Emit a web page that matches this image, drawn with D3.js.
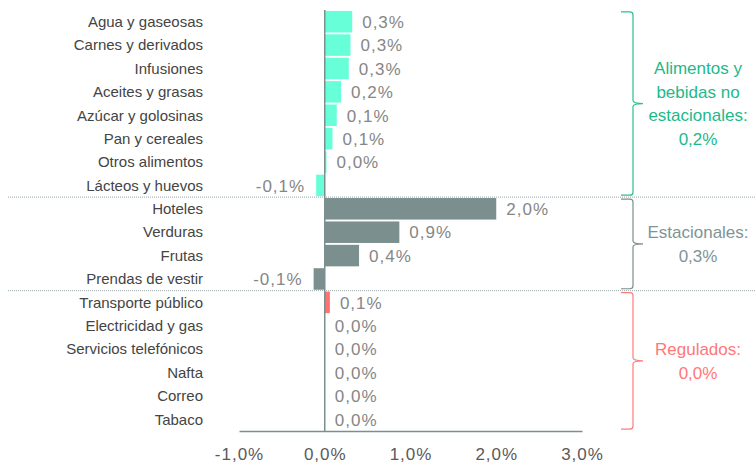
<!DOCTYPE html>
<html>
<head>
<meta charset="utf-8">
<script src="https://cdn.jsdelivr.net/npm/d3@7"></script>
<style>
  html, body { margin: 0; padding: 0; background: #fff; }
  svg { display: block; }
  text { font-family: "Liberation Sans", Arial, sans-serif; }
</style>
</head>
<body>
<svg id="chart" width="756" height="465"></svg>
<script>
const categories = [
  "Agua y gaseosas", "Carnes y derivados", "Infusiones", "Aceites y grasas",
  "Azúcar y golosinas", "Pan y cereales", "Otros alimentos", "Lácteos y huevos",
  "Hoteles", "Verduras", "Frutas", "Prendas de vestir",
  "Transporte público", "Electricidad y gas", "Servicios telefónicos", "Nafta", "Correo", "Tabaco"
];
const values = [0.32, 0.30, 0.28, 0.19, 0.14, 0.09, 0.02, -0.10,
                2.00, 0.87, 0.40, -0.13,
                0.06, 0.00, 0.00, 0.00, 0.00, 0.00];
const valueLabels = ["0,3%", "0,3%", "0,3%", "0,2%", "0,1%", "0,1%", "0,0%", "-0,1%",
                     "2,0%", "0,9%", "0,4%", "-0,1%",
                     "0,1%", "0,0%", "0,0%", "0,0%", "0,0%", "0,0%"];
const groupOf = [0,0,0,0,0,0,0,0, 1,1,1,1, 2,2,2,2,2,2];
const groupNames = [["Alimentos y", "bebidas no", "estacionales:", "0,2%"], ["Estacionales:", "0,3%"], ["Regulados:", "0,0%"]];
const groupStart = [0, 8, 12];
const groupEnd = [7, 11, 17];
const xTicks = [-1, 0, 1, 2, 3];
const xTickLabels = ["-1,0%", "0,0%", "1,0%", "2,0%", "3,0%"];

const barColors = ["#66FFD8", "#7A8F8E", "#FF7373"];
const textColors = ["#1DB98A", "#7D9595", "#FF7777"];
const braceColors = ["#2DBF8F", "#7A8F8E", "#FF7B7B"];
const numFont = "'Open Sans', 'Liberation Sans', sans-serif";

const svg = d3.select("#chart");
const x = d3.scaleLinear().domain([-1, 3]).range([239, 582]);
const y = d3.scaleBand().domain(categories).range([10, 431]).paddingInner(0.08).paddingOuter(0.04);

// separators
[8, 12].forEach(i => {
  const yy = y(categories[i]) - (y.step() - y.bandwidth()) / 2;
  svg.append("line").attr("x1", 8).attr("x2", 756).attr("y1", yy).attr("y2", yy)
    .attr("stroke", "#9aa9a8").attr("stroke-width", 1).attr("stroke-dasharray", "1,1");
});

// bars
svg.append("g").selectAll("rect").data(categories).join("rect")
  .attr("x", (d, i) => x(Math.min(0, values[i])))
  .attr("width", (d, i) => Math.abs(x(values[i]) - x(0)))
  .attr("y", d => y(d))
  .attr("height", y.bandwidth())
  .attr("fill", (d, i) => barColors[groupOf[i]]);

// category labels
svg.append("g").selectAll("text").data(categories).join("text")
  .attr("x", 203).attr("y", d => y(d) + y.bandwidth() / 2)
  .attr("dy", "0.35em").attr("text-anchor", "end")
  .attr("font-size", 15).attr("fill", "#444").text(d => d);

// value labels
svg.append("g").selectAll("text").data(categories).join("text")
  .attr("x", (d, i) => values[i] < 0 ? x(values[i]) - 11 : x(values[i]) + 10)
  .attr("y", d => y(d) + y.bandwidth() / 2)
  .attr("dy", "0.37em")
  .attr("text-anchor", (d, i) => values[i] < 0 ? "end" : "start")
  .attr("font-family", numFont)
  .attr("font-size", 17).attr("font-weight", 300).attr("letter-spacing", 1).attr("fill", "#868686")
  .text((d, i) => valueLabels[i]);

// zero line
svg.append("line").attr("x1", x(0)).attr("x2", x(0)).attr("y1", 10).attr("y2", 431)
  .attr("stroke", "#7A8F8E").attr("stroke-width", 1.5);

// x axis
const axis = d3.axisBottom(x).tickValues(xTicks).tickFormat((d, i) => xTickLabels[i]).tickSize(0).tickPadding(17);
const ag = svg.append("g").attr("transform", "translate(0,431)").call(axis);
ag.select(".domain").attr("stroke", "#7A8F8E").attr("stroke-width", 1.5);
ag.selectAll("text").attr("font-size", 17).attr("font-weight", 300).attr("letter-spacing", 1).attr("fill", "#5a5a5a")
  .attr("font-family", numFont);

// braces
groupStart.forEach((s, g) => {
  const top = y(categories[s]) + 1;
  const bot = y(categories[groupEnd[g]]) + y.bandwidth() - 1;
  const mid = (top + bot) / 2;
  const bx = 633, lx = 621, rx = 643;
  const p = `M${lx},${top} L${bx - 3},${top} Q${bx},${top} ${bx},${top + 3} L${bx},${mid - 3} Q${bx},${mid} ${rx},${mid} Q${bx},${mid} ${bx},${mid + 3} L${bx},${bot - 3} Q${bx},${bot} ${bx - 3},${bot} L${lx},${bot}`;
  svg.append("path").attr("d", p).attr("fill", "none").attr("stroke", braceColors[g]).attr("stroke-width", 1.2);
  const lines = groupNames[g];
  const lh = 23.5;
  const y0 = mid - (lines.length - 1) * lh / 2;
  const t = svg.append("text").attr("text-anchor", "middle").attr("font-size", 17)
    .attr("fill", textColors[g]);
  lines.forEach((ln, k) => {
    t.append("tspan").attr("x", 698).attr("y", y0 + k * lh).attr("dy", "0.35em").text(ln);
  });
});
</script>
</body>
</html>
